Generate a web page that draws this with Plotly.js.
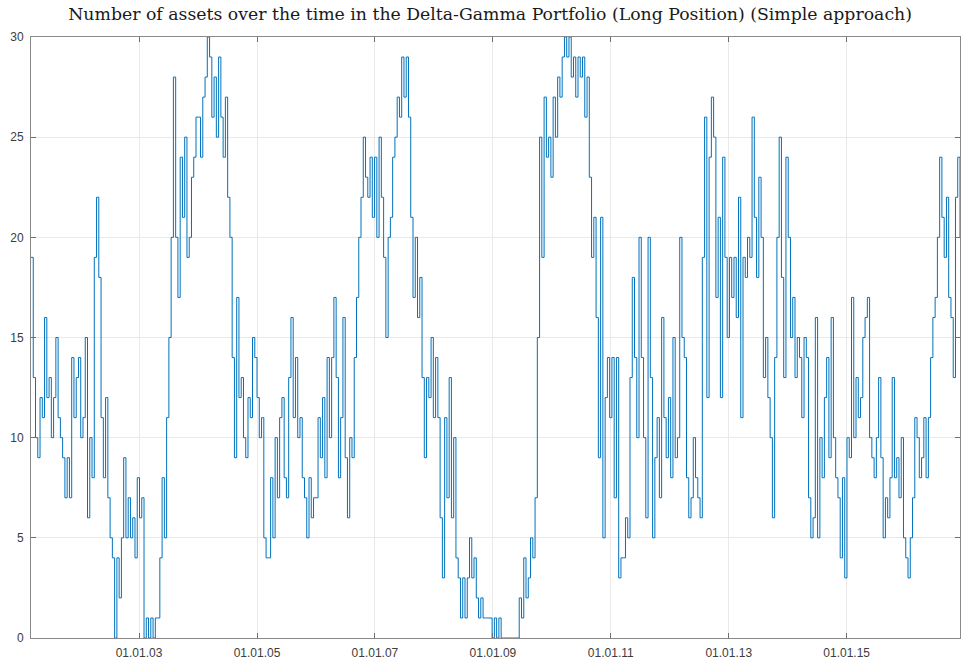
<!DOCTYPE html>
<html>
<head>
<meta charset="utf-8">
<script src="https://cdn.plot.ly/plotly-3.0.1.min.js"></script>
<style>
  html, body { margin: 0; padding: 0; background: #ffffff; }
  #chart { width: 961px; height: 661px; }
</style>
</head>
<body>
<div id="chart"></div>
<script>
// Number of assets held, sampled every two weeks, grouped by calendar year
const startDate = '2001-03-03';
const stepDays = 14;

const y2001 = [19,13,10,9,12,11,16,12,13,10,12,15,11,10,9,7,9,7,14,11,13,14];
const y2002 = [10,11,15,6,10,8,19,22,18,11,8,12,7,5,4,0,4,2,5,9,5,7,5,6,4,8];
const y2003 = [6,7,0,1,0,1,0,1,1,4,8,5,11,15,20,28,20,17,24,21,25,19,20,23,24,26];
const y2004 = [26,24,27,28,30,29,26,28,25,29,26,24,27,22,20,14,9,17,12,13,10,9,12,11,15,14];
const y2005 = [12,10,11,5,4,4,8,5,10,7,11,12,8,7,13,16,11,14,10,11,8,7,5,8,6,7];
const y2006 = [7,11,9,12,8,14,10,14,17,13,8,11,16,9,6,10,9,14,17,20,22,25,23,22,24,21];
const y2007 = [24,20,25,22,19,15,20,21,24,25,27,26,29,27,29,26,21,17,20,16,18,13,9,13,12,15];
const y2008 = [11,14,11,6,3,11,7,13,6,10,4,3,1,3,1,3,5,3,4,2,1,2,1,1,1,1];
const y2009 = [0,1,0,1,0,0,0,0,0,0,0,0,2,1,4,2,3,5,4,7,15,25,19,27,24,25];
const y2010 = [23,27,25,28,27,29,30,29,30,28,29,27,29,28,29,26,28,23,19,21,16,9,21,5,12,14];
const y2011 = [11,14,7,14,3,4,4,6,5,13,18,14,10,20,14,10,6,20,13,5,9,11,7,16,11,9];
const y2012 = [12,8,15,9,10,20,15,14,8,6,7,10,8,7,6,19,26,12,24,27,25,17,21,12,24,19];
const y2013 = [15,19,17,19,16,22,11,19,18,20,19,26,21,18,23,20,13,15,12,10,6,14,20,25,18,13];
const y2014 = [24,20,15,17,13,15,14,11,15,14,7,5,6,16,5,10,8,12,14,9,16,10,8,7,4,8];
const y2015 = [3,10,9,17,10,13,11,12,15,16,17,10,9,8,10,13,9,5,7,6,8,13,8,9,7,10];
const y2016 = [5,4,3,5,7,11,10,8,9,11,8,11,14,16,17,20,24,21,19,22,17,16,13,22,24,20];

const xTickVals = ['2003-01-01','2005-01-01','2007-01-01','2009-01-01','2011-01-01','2013-01-01','2015-01-01'];
const yTickVals = [0,5,10,15,20,25,30];

const assets = [].concat(y2001,y2002,y2003,y2004,y2005,y2006,y2007,y2008,
                         y2009,y2010,y2011,y2012,y2013,y2014,y2015,y2016);

// biweekly observation dates
const t0 = new Date(startDate + 'T00:00:00Z').getTime();
const dates = assets.map((_, i) => {
  const d = new Date(t0 + i * stepDays * 86400000);
  return d.toISOString().slice(0, 10);
});

const axisCommon = {
  showline: true,
  linecolor: '#8a8a8a',
  linewidth: 1,
  mirror: 'ticks',
  ticks: 'inside',
  ticklen: 5,
  tickcolor: '#6e6e6e',
  showgrid: true,
  gridcolor: '#e9e9e9',
  gridwidth: 1,
  zeroline: false,
  tickfont: { family: 'Liberation Sans, Arial, sans-serif', size: 12, color: '#3c3c3c' }
};

const trace = {
  type: 'scatter',
  mode: 'lines',
  x: dates,
  y: assets,
  line: { color: '#0072BD', width: 1, shape: 'hv' },
  hoverinfo: 'x+y'
};

const layout = {
  width: 961,
  height: 661,
  margin: { l: 31, r: 1, t: 37, b: 23, pad: 0 },
  paper_bgcolor: '#ffffff',
  plot_bgcolor: '#ffffff',
  showlegend: false,
  title: {
    text: 'Number of assets over the time in the Delta-Gamma Portfolio (Long Position) (Simple approach)',
    font: { family: 'DejaVu Serif, serif', size: 17.3, color: '#1a1a1a' },
    xref: 'container', x: 0.51, xanchor: 'center',
    yref: 'container', y: 0.979, yanchor: 'middle'
  },
  xaxis: Object.assign({}, axisCommon, {
    type: 'date',
    range: [dates[0], dates[dates.length - 1]],
    tickmode: 'array',
    tickvals: xTickVals,
    tickformat: '%d.%m.%y',
    ticklabelstandoff: 4
  }),
  yaxis: Object.assign({}, axisCommon, {
    range: [0, 30],
    tickmode: 'array',
    tickvals: yTickVals,
    ticklabelstandoff: 4
  })
};

Plotly.newPlot('chart', [trace], layout, { displayModeBar: false, staticPlot: true });
</script>
</body>
</html>
